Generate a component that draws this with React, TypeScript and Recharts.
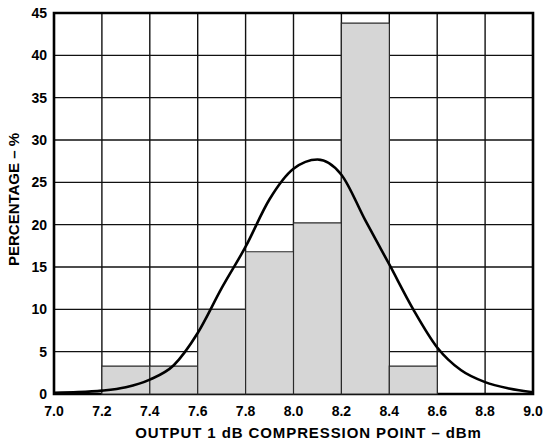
import { ComposedChart, Bar, Line, XAxis, YAxis, CartesianGrid, ReferenceArea, Label } from 'recharts';

// histogram bins (0.2 dBm wide, from 7.0 to 9.0)
const binLabels = ['7.0', '7.2', '7.4', '7.6', '7.8', '8.0', '8.2', '8.4', '8.6', '8.8'];
const binPercent = [0, 3.3, 3.3, 10, 16.8, 20.2, 43.8, 3.3, 0, 0];

// fitted normal curve
const curveX = [7.0, 7.1, 7.2, 7.3, 7.4, 7.5, 7.6, 7.7, 7.8, 7.9, 8.0, 8.1, 8.2, 8.3, 8.4, 8.5, 8.6, 8.7, 8.8, 8.9, 9.0];
const curveY = [0.15, 0.22, 0.4, 0.8, 1.7, 3.4, 7.2, 12.5, 17.4, 23.0, 26.6, 27.7, 25.9, 20.5, 15.3, 10.0, 5.5, 2.8, 1.4, 0.65, 0.2];

const xTicks = [7.0, 7.2, 7.4, 7.6, 7.8, 8.0, 8.2, 8.4, 8.6, 8.8, 9.0];
const yTicks = [0, 5, 10, 15, 20, 25, 30, 35, 40, 45];

const bins = binLabels.map((b, i) => ({ bin: b, pct: binPercent[i] }));
const curve = curveX.map((x, i) => ({ x, y: curveY[i] }));

const font = '"Liberation Sans", Arial, sans-serif';

const XTitle = ({ viewBox }: any) => (
  <text x={viewBox.x + viewBox.width / 2 + 15} y={viewBox.y + 44} textAnchor="middle"
    fontFamily={font} fontWeight="bold" fontSize={15} letterSpacing={0.9} fill="#000">
    OUTPUT 1 dB COMPRESSION POINT – dBm
  </text>
);

const YTitle = ({ viewBox }: any) => {
  const cx = viewBox.x + 13;
  const cy = viewBox.y + viewBox.height / 2 - 4;
  return (
    <text x={cx} y={cy} transform={`rotate(-90 ${cx} ${cy})`} textAnchor="middle" dominantBaseline="central"
      fontFamily={font} fontWeight="bold" fontSize={15} fill="#000">
      PERCENTAGE – %
    </text>
  );
};

export default function App() {
  const tick = { fontFamily: font, fontWeight: 'bold', fontSize: 14, fill: '#000' };
  return (
    <div style={{ position: 'absolute', left: 0, top: 0, background: '#fff' }}>
      <ComposedChart width={546} height={445} data={bins} barCategoryGap={0} barGap={0}
        margin={{ top: 13, right: 13, left: 0, bottom: 0 }}>
        <XAxis xAxisId="bins" dataKey="bin" type="category" orientation="top" height={0} hide />
        <XAxis xAxisId="num" type="number" dataKey="x" domain={[7, 9]} ticks={xTicks} allowDataOverflow
          tickFormatter={(v) => v.toFixed(1)} tick={tick} tickLine={false} tickSize={0} tickMargin={12}
          axisLine={false} height={51} interval={0}>
          <Label content={XTitle} />
        </XAxis>
        <YAxis type="number" domain={[0, 45]} ticks={yTicks} tick={tick} tickLine={false} tickSize={0}
          tickMargin={7} axisLine={false} width={54} interval={0}>
          <Label content={YTitle} />
        </YAxis>
        <CartesianGrid xAxisId="num" stroke="#111" strokeWidth={1.4} />
        <Bar xAxisId="bins" dataKey="pct" fill="#d6d6d6" stroke="#2a2a2a" strokeWidth={1.2} isAnimationActive={false} />
        <Line xAxisId="num" data={curve} dataKey="y" type="monotone" stroke="#000" strokeWidth={2.6}
          dot={false} activeDot={false} isAnimationActive={false} />
        <ReferenceArea xAxisId="num" x1={7} x2={9} y1={0} y2={45} fill="none" stroke="#000" strokeWidth={2.6} />
      </ComposedChart>
    </div>
  );
}
